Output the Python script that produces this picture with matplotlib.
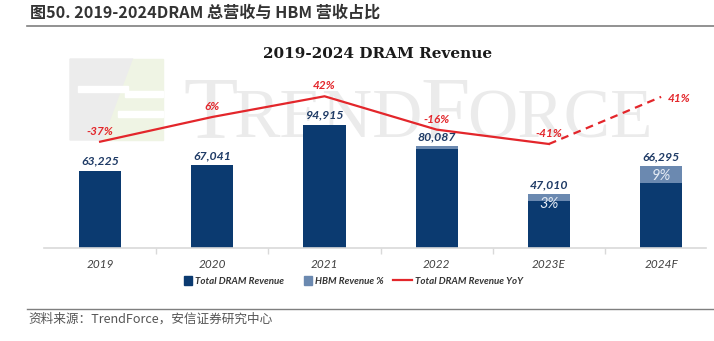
import matplotlib.pyplot as plt
from matplotlib.patches import Polygon, Rectangle, Patch
from matplotlib.lines import Line2D
from matplotlib.legend_handler import HandlerPatch

# data
years = ['2019', '2020', '2021', '2022', '2023E', '2024F']
dram_revenue = [63225, 67041, 94915, 80087, 47010, 66295]   # USD mn
hbm_segment = [0, 0, 0, 1700, 4600, 11700]                   # HBM part of bar, as drawn
hbm_labels = ['', '', '', '', '3%', '9%']
yoy = [-37, 6, 42, -16, -41, 41]                            # %

NAVY = '#0b3a70'
HBM_BLUE = '#6b89b0'
RED = '#e3262b'
W, H = 714, 341


def fx(px):
    return px / W


def fy(py):
    return 1 - py / H


def square_patch(legend, orig_handle, xdescent, ydescent, width, height, fontsize):
    return Rectangle((width - height - xdescent, -ydescent), height, height)


fig = plt.figure(figsize=(W / 100, H / 100), dpi=100)
fig.patch.set_facecolor('white')
renderer = fig.canvas.get_renderer()

# page header / footer
fig.text(fx(30), fy(13), '图50. 2019-2024DRAM 总营收与 HBM 营收占比',
         family=['Noto Sans CJK SC', 'DejaVu Sans'], fontsize=11.6, fontweight='bold',
         color='#333333', ha='left', va='center')
fig.add_artist(Line2D([fx(27), 1], [fy(26), fy(26)], color='#7f7f7f', lw=1.2))
fig.add_artist(Line2D([fx(27), 1], [fy(309), fy(309)], color='#7f7f7f', lw=1.0))
fig.text(fx(28), fy(319), '资料来源：TrendForce，安信证券研究中心',
         family=['Noto Sans CJK SC', 'DejaVu Sans'], fontsize=9.1, color='#555555',
         ha='left', va='center')

# faint TrendForce watermark (logo + small-caps word)
fig.add_artist(Polygon([(fx(70), fy(59)), (fx(133), fy(59)), (fx(103), fy(140)), (fx(70), fy(140))],
                       closed=True, color='#ececec', zorder=0))
fig.add_artist(Polygon([(fx(133), fy(59)), (fx(163), fy(59)), (fx(163), fy(140)), (fx(103), fy(140))],
                       closed=True, color='#eff4e4', zorder=0))
fig.add_artist(Rectangle((fx(78), fy(92)), fx(50), fx(6) * W / H, color='white', zorder=0))
fig.add_artist(Rectangle((fx(125), fy(97)), fx(38), fx(6) * W / H, color='white', zorder=0))
fig.add_artist(Rectangle((fx(118), fy(117)), fx(45), fx(6) * W / H, color='white', zorder=0))
x_px = 183
for piece, size in [('T', 64), ('REND', 50), ('F', 64), ('ORCE', 50)]:
    t = fig.text(fx(x_px), fy(137), piece, family='Liberation Serif', fontsize=size,
                 color='#ebebeb', ha='left', va='baseline', zorder=0)
    x_px += t.get_window_extent(renderer).width - 3

# chart title
fig.text(fx(378), fy(54), '2019-2024 DRAM Revenue', family='DejaVu Serif',
         fontsize=11, fontweight='bold', color='#1a1a1a', ha='center', va='center')

ax = fig.add_axes([fx(44), fy(248), fx(662), 188 / H])
ax.set_zorder(2)
ax.patch.set_alpha(0)
x = list(range(len(years)))
base = [d - h for d, h in zip(dram_revenue, hbm_segment)]
ax.bar(x, base, width=0.375, color=NAVY, zorder=2)
ax.bar(x, hbm_segment, bottom=base, width=0.375, color=HBM_BLUE, zorder=2)

for i, v in enumerate(dram_revenue):
    ax.annotate(f'{v:,}', (i, v), xytext=(0, 3), textcoords='offset points',
                ha='center', va='bottom', family='Lato', fontsize=8.8,
                fontweight='bold', style='italic', color='#1f3b66')
    if hbm_labels[i]:
        ax.annotate(hbm_labels[i], (i, v), xytext=(0, -7), textcoords='offset points',
                    ha='center', va='center', family='Lato', fontsize=10.5,
                    style='italic', color='#e4ebf4', zorder=3)

ax.set_xlim(-0.5, 5.4)
ax.set_ylim(10000, 139477)
for s in ['top', 'left', 'right']:
    ax.spines[s].set_visible(False)
ax.spines['bottom'].set_color('#d9d9d9')
ax.spines['bottom'].set_linewidth(1.2)
ax.set_yticks([])
ax.set_xticks(x)
ax.set_xticklabels(years, family='Lato', style='italic', fontsize=8.5, color='#404040')
ax.tick_params(axis='x', length=0, pad=8)
ax.set_xticks([i + 0.5 for i in range(5)], minor=True)
ax.tick_params(axis='x', which='minor', length=4, color='#d9d9d9', width=1)

ax2 = ax.twinx()
ax2.set_zorder(3)
ax2.set_ylim(-221.9, 105.1)
ax2.axis('off')
ax2.plot(x[:5], yoy[:5], color=RED, lw=1.6, zorder=4)
ax2.plot(x[4:], yoy[4:], color=RED, lw=1.6, ls=(0, (3.5, 2.5)), zorder=4)
for i, v in enumerate(yoy):
    if i == len(yoy) - 1:
        ax2.annotate(f'{v}%', (i, v), xytext=(5, -1.5), textcoords='offset points',
                     ha='left', va='center', family='Lato', fontsize=8.5,
                     fontweight='bold', style='italic', color=RED)
    else:
        ax2.annotate(f'{v}%', (i, v), xytext=(0, 7.5), textcoords='offset points',
                     ha='center', va='center', family='Lato', fontsize=8.5,
                     fontweight='bold', style='italic', color=RED)

handles = [Patch(color=NAVY), Patch(color=HBM_BLUE), Line2D([], [], color=RED, lw=1.6)]
labels = ['Total DRAM Revenue', 'HBM Revenue %', 'Total DRAM Revenue YoY']
leg = fig.legend(handles, labels, loc='center', bbox_to_anchor=(fx(348), fy(281)), ncol=3,
                 frameon=False, handlelength=2.0, handleheight=1.0, handletextpad=0.3,
                 columnspacing=0.9,
                 handler_map={Patch: HandlerPatch(patch_func=square_patch)},
                 prop={'family': 'Lato', 'size': 7, 'weight': 'bold', 'style': 'italic'},
                 labelcolor='#333333')
leg.set_zorder(5)

fig.savefig('out.png', dpi=100)
